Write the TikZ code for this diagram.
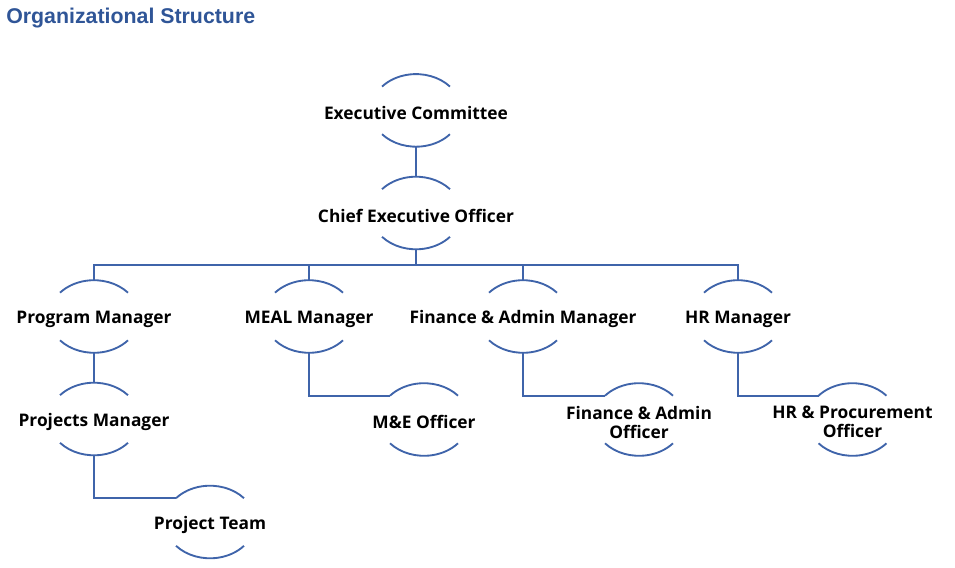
\documentclass[tikz,border=0pt]{standalone}
\usepackage{fontspec}
\setmainfont{Open Sans}
\newfontfamily\titlefont{Liberation Sans}
\usetikzlibrary{positioning, shapes.geometric}
\definecolor{linkblue}{HTML}{3F64AA}
\definecolor{titleblue}{HTML}{2F5597}

\begin{document}
\begin{tikzpicture}[
    x=0.75pt, y=0.75pt,
    role/.style={ellipse, minimum width=67.5pt, minimum height=54.45pt, inner sep=0pt, outer sep=0pt},
    roletext/.style={anchor=base, yshift=-2.1pt, inner sep=0pt, align=center, font=\bfseries\fontsize{13}{14.25}\selectfont},
    link/.style={draw=linkblue, line width=1.5pt},
    arcline/.style={draw=linkblue, line width=1.4pt}
]
\useasboundingbox (0,0) rectangle (955,-567);

% Title
\node[anchor=base west, inner sep=0pt, text=titleblue, font=\titlefont\bfseries\fontsize{16}{19}\selectfont] (title) at (6,-23.3) {Organizational Structure};

% Nodes
\node[role, label={[roletext]center:Executive Committee}] (EC) at (416,-110.4) {};
\node[role, label={[roletext]center:Chief Executive Officer}] (CEO) at (416,-213) {};
\node[role, label={[roletext]center:Program Manager}] (PM) at (94,-316.5) {};
\node[role, label={[roletext]center:MEAL Manager}] (MEAL) at (309,-316.5) {};
\node[role, label={[roletext]center:Finance \& Admin Manager}] (FAM) at (523,-316.5) {};
\node[role, label={[roletext]center:HR Manager}] (HRM) at (738,-316.5) {};
\node[role, label={[roletext]center:Projects Manager}] (PJM) at (94,-419) {};
\node[role, label={[roletext]center:M\&E Officer}] (ME) at (424,-419.5) {};
\node[role, label={[roletext]center:{Finance \& Admin\\Officer}}] (FAO) at (639,-419.5) {};
\node[role, label={[roletext]center:{HR \& Procurement\\Officer}}] (HRO) at (852.5,-419.5) {};
\node[role, label={[roletext]center:Project Team}] (PT) at (210,-522) {};

% Arcs
\foreach \n in {EC,CEO,PM,MEAL,FAM,HRM,PJM,ME,FAO,HRO,PT} {
    \draw[arcline] ([shift={(41:45 and 36.3)}]\n.center) arc[start angle=41, end angle=139, x radius=45, y radius=36.3];
    \draw[arcline] ([shift={(221:45 and 36.3)}]\n.center) arc[start angle=221, end angle=319, x radius=45, y radius=36.3];
}

% Edges
\coordinate (bus) at (416,-265);
\draw[link] (EC) -- (CEO);
\foreach \m in {PM,MEAL,FAM,HRM}
    \draw[link] (CEO.south) -- (CEO.south |- bus) -| (\m.north);
\draw[link] (PM) -- (PJM);
\draw[link] (PJM.south) |- (PT.145);
\draw[link] (MEAL.south) |- (ME.145);
\draw[link] (FAM.south) |- (FAO.145);
\draw[link] (HRM.south) |- (HRO.145);

\end{tikzpicture}
\end{document}
